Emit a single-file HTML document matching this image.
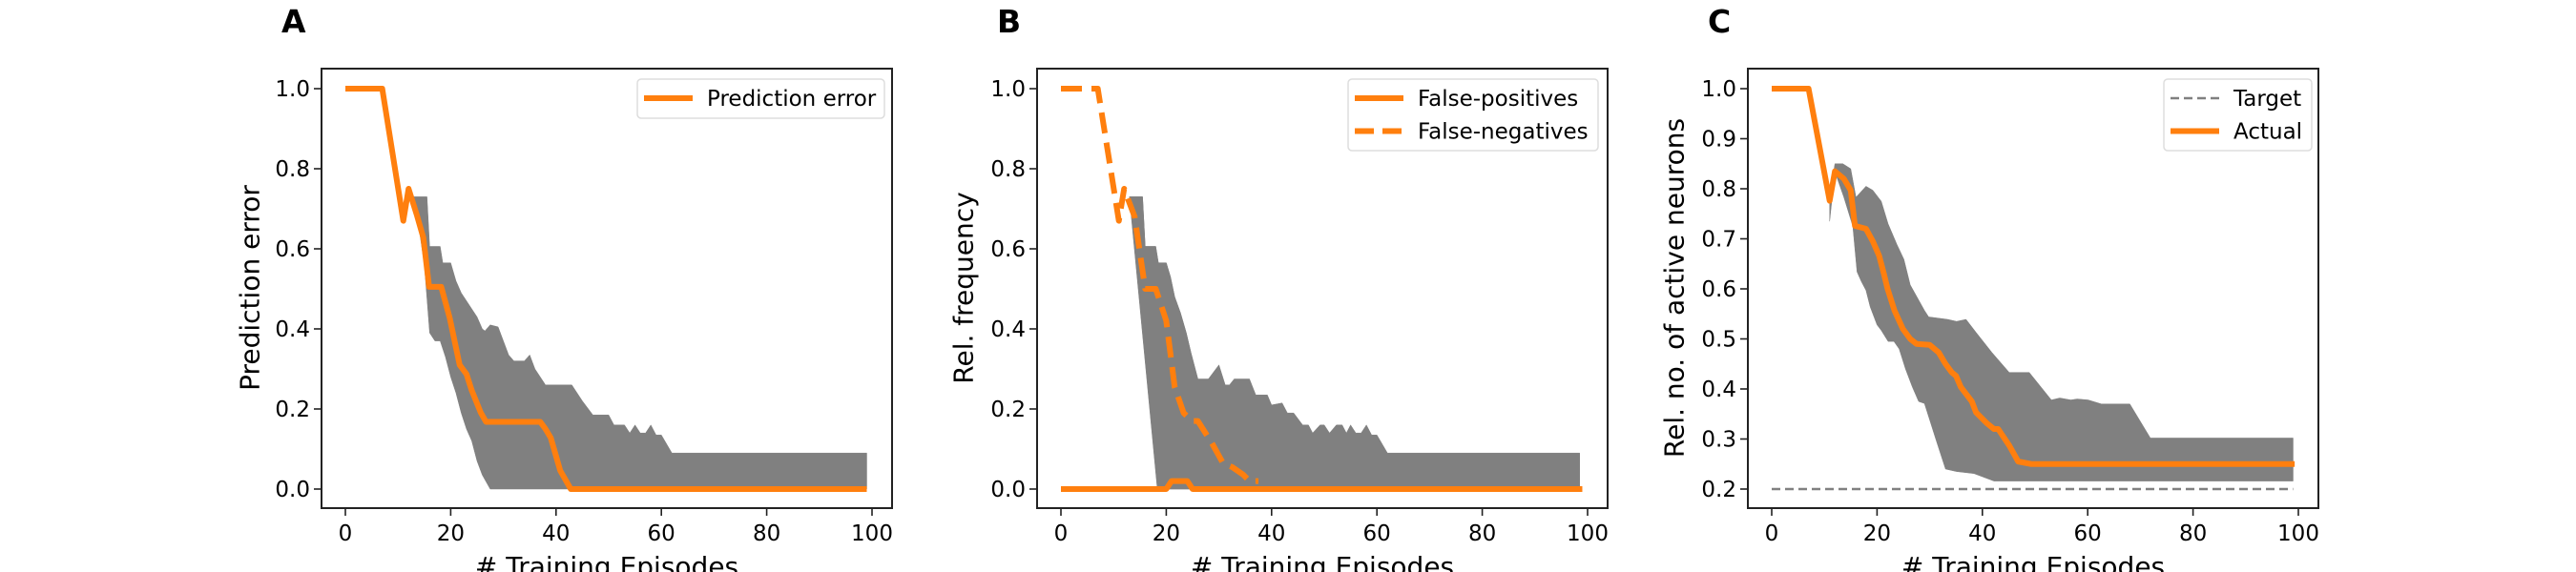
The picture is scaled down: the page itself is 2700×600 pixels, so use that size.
<!DOCTYPE html>
<html><head><meta charset="utf-8">
<style>
html,body{margin:0;padding:0;background:#fff;}
svg{display:block;font-family:"DejaVu Sans","Liberation Sans",sans-serif;}
</style></head>
<body>
<svg id="fig" width="2700" height="600" viewBox="0 0 2700 600" xmlns="http://www.w3.org/2000/svg"></svg>
<script>
// ---- Panel A data ----
const aMeanX = [0,7,11,12,13.6,14.8,15.9,18.2,19.8,21.7,23,24,25.7,26.7,37,38,39,40.8,42.8,99];
const aMeanY = [1,1,0.67,0.75,0.683,0.628,0.505,0.505,0.428,0.31,0.287,0.246,0.191,0.168,0.168,0.15,0.128,0.046,0,0];
const aUpX = [13,15.5,16,18,18.5,20,21,22,23,25,26,26.5,27.5,29,30,31,32,34,35,36,38,43,45,47,50,51,53,54,55,56,57,58,59,60,62,99];
const aUpY = [0.73,0.73,0.606,0.606,0.565,0.565,0.52,0.49,0.47,0.43,0.40,0.395,0.41,0.405,0.37,0.335,0.32,0.32,0.335,0.30,0.26,0.26,0.22,0.185,0.185,0.16,0.16,0.14,0.16,0.14,0.14,0.16,0.135,0.135,0.09,0.09];
const aLoX = [13,14,15,16,17,18,19,20,21,22,23,24,25,26,27.5,99];
const aLoY = [0.73,0.65,0.56,0.39,0.37,0.37,0.33,0.28,0.24,0.19,0.15,0.12,0.07,0.035,0,0];

// ---- Panel B data ----
const bFnX = [0,7,11,12,14,16,18,20,21.6,23.3,24.9,26,28.7,30.8,32.5,34.6,35.8,37.5];
const bFnY = [1,1,0.67,0.75,0.68,0.5,0.5,0.42,0.255,0.19,0.17,0.17,0.114,0.064,0.055,0.036,0.02,0.02];
const bFpX = [0,20,21,24,25,99];
const bFpY = [0,0,0.02,0.02,0,0];
const bBandUpX = [13,15.5,16,18,18.5,20,20.8,21.6,22.7,23.8,24.7,25.5,26,28,30,31.2,32,32.9,35.8,37,39.2,40,42,43,44.2,45.9,47,47.8,49.2,50,51,52.3,53.4,54.2,55,56,57,58,59,60,62,98.5];
const bBandUpY = [0.73,0.73,0.606,0.606,0.565,0.565,0.53,0.48,0.44,0.39,0.34,0.30,0.275,0.275,0.31,0.26,0.26,0.275,0.275,0.235,0.235,0.21,0.215,0.19,0.19,0.16,0.16,0.14,0.16,0.16,0.14,0.16,0.16,0.14,0.16,0.14,0.14,0.16,0.135,0.135,0.09,0.09];
const bFnLoX = [13,14,15,16,17,18,19,20,21,22,23];
const bFnLoY = [0.73,0.65,0.56,0.39,0.37,0.37,0.28,0.2,0.13,0.05,0];
const bFpUpX = [18.3,21,22,23,24,26];
const bFpUpY = [0,0.13,0.2,0.25,0.27,0.275];

// ---- Panel C data ----
const cMeanX = [0,7,11,12,13.7,15,15.8,17.9,19.2,20.4,21.3,22,23.3,24.9,26.3,27.5,30,31.7,33,34.2,35,35.9,38,38.8,40.9,42.2,43,45.1,46.8,49.3,99.3];
const cMeanY = [1,1,0.776,0.835,0.82,0.797,0.726,0.72,0.695,0.666,0.63,0.60,0.557,0.52,0.50,0.49,0.488,0.473,0.45,0.433,0.426,0.404,0.375,0.353,0.331,0.32,0.32,0.287,0.255,0.25,0.25];
const cUpX = [11,12,13.5,15,16,17.9,19.2,20.8,22.1,23.8,25.1,26.3,29,29.8,33.4,35.1,36.9,38.8,41.8,45.1,48.9,53.1,54.7,56.8,58,60.1,62.6,68,71.9,99];
const cUpY = [0.78,0.85,0.85,0.84,0.783,0.805,0.797,0.775,0.73,0.688,0.659,0.608,0.557,0.544,0.539,0.535,0.539,0.513,0.473,0.433,0.433,0.378,0.382,0.378,0.38,0.378,0.37,0.37,0.302,0.302];
const cLoX = [11,12,13.7,15.4,16.2,17,17.9,18.7,20,20.8,22.1,23.2,24.2,25.4,26.7,27.9,29,31.3,33,35.1,38.4,42.2,99];
const cLoY = [0.735,0.834,0.783,0.725,0.634,0.615,0.597,0.564,0.528,0.517,0.495,0.495,0.48,0.44,0.404,0.375,0.371,0.295,0.24,0.235,0.231,0.216,0.216];
const cTargetX = [0,99];
const cTargetY = [0.2,0.2];

const xTicks = [0,20,40,60,80,100];
const abYTicks = [0.0,0.2,0.4,0.6,0.8,1.0];
const cYTicks = [0.2,0.3,0.4,0.5,0.6,0.7,0.8,0.9,1.0];

const NS = "http://www.w3.org/2000/svg";
const svg = document.getElementById('fig');
function mk(tag, attrs, parent){const e=document.createElementNS(NS,tag);for(const k in attrs)e.setAttribute(k,attrs[k]);(parent||svg).appendChild(e);return e;}

const ORANGE="#ff7f0e", GRAY="#808080";
const TOP=72, BOT=533;

function makePanel(name, left, yMin, yMax, letter, letterX, ylabel, ylabelX, yTicks, yFmt){
  const right=left+598;
  const x0=left+25, x100=right-21;
  const sx=v=>x0+(x100-x0)*v/100;
  const sy=v=>513-(513-93)*(v-yMin)/(yMax-yMin);
  const g=mk('g',{});
  
  
  const t=mk('text',{x:letterX,y:34,'font-size':33,'font-weight':'bold',fill:'#000'},g);
  t.textContent=letter;
  
  
  return {g,sx,sy,left,right,finish(){
    const box=mk('rect',{x:left,y:TOP,width:598,height:BOT-TOP,fill:'none',stroke:'#222','stroke-width':2},g);
    
    
    xTicks.forEach(v=>{
      const X=sx(v);
      const tk=mk('line',{x1:X,x2:X,y1:BOT,y2:BOT+8,stroke:'#222','stroke-width':1.6},g);
      
      
      const lb=mk('text',{x:X,y:BOT+34,'text-anchor':'middle','font-size':23,fill:'#000'},g);
      lb.textContent=String(v);
      
      
    });
    yTicks.forEach(v=>{
      const Y=sy(v);
      const tk=mk('line',{x1:left-8,x2:left,y1:Y,y2:Y,stroke:'#222','stroke-width':1.6},g);
      
      
      const lb=mk('text',{x:left-12,y:Y+8,'text-anchor':'end','font-size':23,fill:'#000'},g);
      lb.textContent=v.toFixed(1);
      
      
    });
    const xl=mk('text',{x:left+299,y:604,'text-anchor':'middle','font-size':28,fill:'#000'},g);
    xl.textContent='# Training Episodes';
    
    
    const yl=mk('text',{x:ylabelX,y:302,'text-anchor':'middle','font-size':28,fill:'#000',transform:`rotate(-90 ${ylabelX} 302)`,'dominant-baseline':'central'},g);
    yl.textContent=ylabel;
    
    
  }};
}
function band(p, upX, upY, loX, loY, nm){
  let pts=upX.map((x,i)=>p.sx(x)+','+p.sy(upY[i]));
  for(let i=loX.length-1;i>=0;i--) pts.push(p.sx(loX[i])+','+p.sy(loY[i]));
  const e=mk('polygon',{points:pts.join(' '),fill:GRAY,stroke:GRAY,'stroke-width':0.5},p.g);
  
  
}
function line(p, xs, ys, color, w, dash, nm){
  const pts=xs.map((x,i)=>p.sx(x)+','+p.sy(ys[i])).join(' ');
  const a={points:pts,fill:'none',stroke:color,'stroke-width':w,'stroke-linejoin':'round'};
  if(dash)a['stroke-dasharray']=dash;
  const e=mk('polyline',a,p.g);
  
  
}
function legend(p, x, y, w, entries, nm){
  const h=entries.length===1?41:75;
  const lg=mk('g',{},p.g);
  
  
  mk('rect',{x:x,y:y,width:w,height:h,rx:4,fill:'#fff','fill-opacity':0.8,stroke:'#ddd','stroke-width':1.5},lg);
  entries.forEach((en,i)=>{
    const cy=y+20+i*34.5;
    const a={x1:x+7,x2:x+58,y1:cy,y2:cy,stroke:en.c,'stroke-width':en.w};
    if(en.d)a['stroke-dasharray']=en.d;
    mk('line',a,lg);
    const t=mk('text',{x:x+73,y:cy+8,'font-size':23,fill:'#000'},lg);
    t.textContent=en.t;
    
    
  });
}

// Panel A
const pA=makePanel('a',337,0,1,'A',295,'Prediction error',262,abYTicks);
band(pA,aUpX,aUpY,aLoX,aLoY,'a-error-band');
line(pA,aMeanX,aMeanY,ORANGE,6,null,'a-prediction-error-line');
pA.finish();
legend(pA,668,83,259,[{t:'Prediction error',c:ORANGE,w:6}],'a-legend');

// Panel B
const pB=makePanel('b',1087,0,1,'B',1045,'Rel. frequency',1010,abYTicks);
band(pB,bBandUpX,bBandUpY,[18.3,98.5],[0,0],'b-false-positive-band');
band(pB,bBandUpX.slice(0,13),bBandUpY.slice(0,13),bFnLoX,bFnLoY,'b-false-negative-band');
band(pB,bFpUpX,bFpUpY,[18.3,26],[0,0],'b-false-positive-band-edge');
line(pB,bFpX,bFpY,ORANGE,6,null,'b-false-positives-line');
line(pB,bFnX,bFnY,ORANGE,6,'22,10','b-false-negatives-line');
pB.finish();
legend(pB,1413,83,262,[{t:'False-positives',c:ORANGE,w:6},{t:'False-negatives',c:ORANGE,w:6,d:'20,9'}],'b-legend');

// Panel C
const pC=makePanel('c',1832,0.2,1,'C',1790,'Rel. no. of active neurons',1755,cYTicks);
band(pC,cUpX,cUpY,cLoX,cLoY,'c-actual-band');
line(pC,cTargetX,cTargetY,GRAY,2.5,'9,5','c-target-line');
line(pC,cMeanX,cMeanY,ORANGE,6,null,'c-actual-line');
pC.finish();
legend(pC,2268,83,155,[{t:'Target',c:GRAY,w:2.5,d:'9,5'},{t:'Actual',c:ORANGE,w:6}],'c-legend');
</script>
</body></html>
